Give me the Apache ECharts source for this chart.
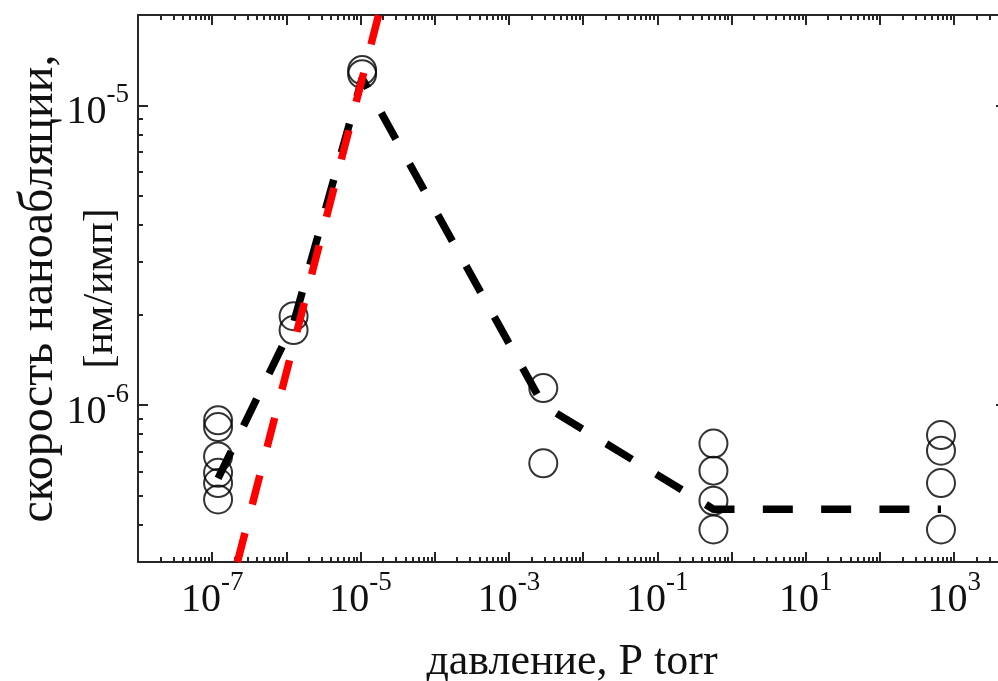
<!DOCTYPE html>
<html>
<head>
<meta charset="utf-8">
<script src="https://cdn.jsdelivr.net/npm/echarts@6/dist/echarts.min.js"></script>
<style>
  html, body { margin: 0; padding: 0; background: #fff; }
  #chart { width: 998px; height: 681px; }
</style>
</head>
<body>
<div id="chart"></div>
<script>
// Pressure of each measurement group, torr
const pressures = [1.2e-7, 1.25e-6, 1.05e-5, 2.9e-3, 0.57, 665];
// Ablation rate readings for each group, nm/pulse
const rateG1 = [8.9e-7, 8.45e-7, 6.75e-7, 5.95e-7, 5.5e-7, 4.85e-7];
const rateG2 = [1.98e-6, 1.78e-6];
const rateG3 = [1.31e-5, 1.27e-5];
const rateG4 = [1.14e-6, 6.4e-7];
const rateG5 = [7.45e-7, 6.05e-7, 4.8e-7, 3.85e-7];
const rateG6 = [7.95e-7, 7.05e-7, 5.5e-7, 3.85e-7];
const rateGroups = [rateG1, rateG2, rateG3, rateG4, rateG5, rateG6];

// Black dashed trend through the groups
const trendPressure = [1.2e-7, 1.25e-6, 1.05e-5, 2.9e-3, 0.57, 665];
const trendRate = [5.7e-7, 1.88e-6, 1.23e-5, 1.0e-6, 4.5e-7, 4.5e-7];

// Red dashed linear-growth line
const fitPressure = [2.19e-7, 1.75e-5];
const fitRate = [3e-7, 2e-5];

// Axis ranges and labelled decades
const xMin = 1e-8, xMax = 5000;
const yMin = 3e-7, yMax = 2e-5;
const xLabelDecades = [-7, -5, -3, -1, 1, 3];
const yLabelDecades = [-6, -5];

const FONT = "'Liberation Serif', 'Times New Roman', serif";
const AXIS_COLOR = '#262626';
const TEXT_COLOR = '#111';

// Decade and 2..9 sub-decade tick positions inside [lo, hi]
function logTicks(lo, hi) {
  const major = [], minor = [];
  for (let e = Math.floor(Math.log10(lo)); e <= Math.ceil(Math.log10(hi)); e++) {
    const base = Math.pow(10, e);
    if (base >= lo * 0.999 && base <= hi * 1.001) major.push(base);
    for (let m = 2; m <= 9; m++) {
      const v = m * base;
      if (v >= lo * 0.999 && v <= hi * 1.001) minor.push(v);
    }
  }
  return { major, minor };
}
const xTicks = logTicks(xMin, xMax);
const yTicks = logTicks(yMin, yMax);

const powerLabel = (v) => '{b|10}{s|' + Math.round(Math.log10(v)) + '}';
const richPow = {
  b: { fontSize: 40, fontFamily: FONT, color: TEXT_COLOR, lineHeight: 44 },
  s: { fontSize: 27, fontFamily: FONT, color: TEXT_COLOR, lineHeight: 27,
       verticalAlign: 'bottom', padding: [0, 0, 26, 0] }
};

function makeAxis(kind, position, values, len, withLine, labels, extra) {
  const isX = kind === 'x';
  return {
    type: 'log', logBase: 10,
    min: isX ? xMin : yMin, max: isX ? xMax : yMax,
    position: position,
    axisLine: { show: withLine, onZero: false, lineStyle: { color: AXIS_COLOR, width: 2 } },
    axisTick: { show: true, inside: true, length: len, customValues: values,
                lineStyle: { color: AXIS_COLOR, width: 2 } },
    splitLine: { show: false },
    minorTick: { show: false },
    axisLabel: labels ? Object.assign({
      show: true, customValues: labels, formatter: powerLabel, rich: richPow
    }, extra || {}) : { show: false }
  };
}

const xLabelVals = xLabelDecades.map(e => Math.pow(10, e));
const yLabelVals = yLabelDecades.map(e => Math.pow(10, e));

const xAxes = [
  Object.assign(makeAxis('x', 'bottom', xTicks.major, 10, true, xLabelVals, { margin: 16 }), {
    name: 'давление, P torr', nameLocation: 'middle', nameGap: 78, nameMoveOverlap: false,
    nameTextStyle: { fontSize: 44, lineHeight: 44, fontFamily: FONT, color: TEXT_COLOR }
  }),
  makeAxis('x', 'bottom', xTicks.minor, 5, false, null),
  makeAxis('x', 'top', xTicks.major, 10, true, null),
  makeAxis('x', 'top', xTicks.minor, 5, false, null)
];
const yAxes = [
  Object.assign(makeAxis('y', 'left', yTicks.major, 10, true, yLabelVals,
                         { margin: 9, padding: [14, 0, 0, 0] }), {
    name: '{t|скорость наноабляции,}\n{u|[нм/имп]}',
    nameLocation: 'middle', nameRotate: 90, nameGap: 6, nameMoveOverlap: false,
    nameTextStyle: {
      fontFamily: FONT, color: TEXT_COLOR, lineHeight: 62,
      rich: {
        t: { fontSize: 48, lineHeight: 62, fontFamily: FONT, color: TEXT_COLOR },
        u: { fontSize: 42, lineHeight: 62, fontFamily: FONT, color: TEXT_COLOR }
      }
    }
  }),
  makeAxis('y', 'left', yTicks.minor, 5, false, null),
  makeAxis('y', 'right', yTicks.major, 10, true, null),
  makeAxis('y', 'right', yTicks.minor, 5, false, null)
];

const pointData = [];
pressures.forEach((p, i) => rateGroups[i].forEach(r => pointData.push([p, r])));

const option = {
  animation: false,
  backgroundColor: '#fff',
  grid: { left: 138, top: 15, right: -8, bottom: 119, containLabel: false, outerBoundsMode: 'none' },
  xAxis: xAxes,
  yAxis: yAxes,
  series: [
    {
      type: 'scatter', xAxisIndex: 0, yAxisIndex: 0, z: 2,
      symbol: 'circle', symbolSize: 28,
      itemStyle: { color: 'rgba(0,0,0,0)', borderColor: '#000', borderWidth: 2 },
      data: pointData
    },
    {
      type: 'line', xAxisIndex: 0, yAxisIndex: 0, z: 3,
      symbol: 'none',
      lineStyle: { color: '#000', width: 7.5, type: [30, 28.3], cap: 'butt' },
      data: trendPressure.map((p, i) => [p, trendRate[i]])
    },
    {
      type: 'line', xAxisIndex: 0, yAxisIndex: 0, z: 4,
      symbol: 'none',
      lineStyle: { color: '#ff0000', width: 7.5, type: [30, 29.4], cap: 'butt' },
      data: fitPressure.map((p, i) => [p, fitRate[i]])
    }
  ]
};

const chart = echarts.init(document.getElementById('chart'), null, { renderer: 'canvas' });
chart.setOption(option);
</script>
</body>
</html>
